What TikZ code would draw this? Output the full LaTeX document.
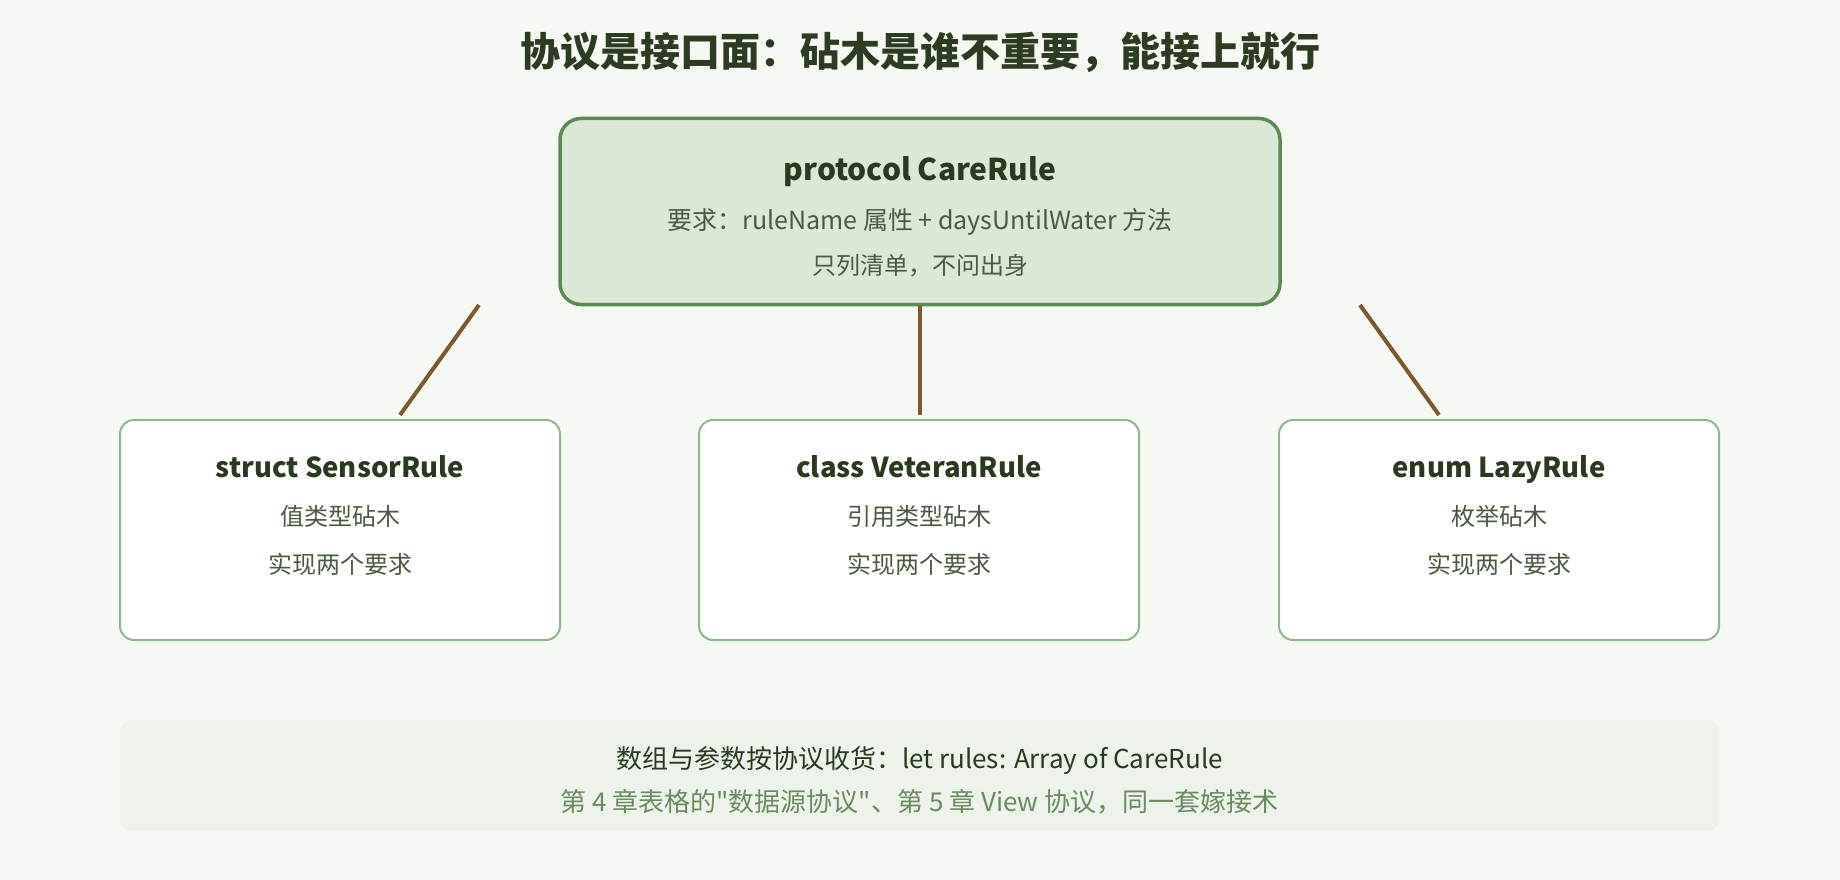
\documentclass[tikz,border=0pt]{standalone}
\usepackage{fontspec}
\setmainfont{Noto Sans CJK SC}[Ligatures=TeXOff]
\definecolor{bg}{HTML}{F6F8F3}
\definecolor{titlec}{HTML}{2D3B22}
\definecolor{headc}{HTML}{2A3A20}
\definecolor{subc}{HTML}{4A5A40}
\definecolor{notec}{HTML}{6B8A62}
\definecolor{topfill}{HTML}{DCE8D6}
\definecolor{topline}{HTML}{5B8A55}
\definecolor{boxline}{HTML}{8DB98A}
\definecolor{linkc}{HTML}{7A5A2E}
\definecolor{panelfill}{HTML}{EDF2EA}
\tikzset{
  topbox/.style={draw=topline, line width=3.5pt, fill=topfill, rounded corners=21pt,
    minimum width=720pt, minimum height=186pt, inner sep=0pt},
  rulebox/.style={draw=boxline, line width=2pt, fill=white, rounded corners=14pt,
    minimum width=440pt, minimum height=220pt, inner sep=0pt},
  panel/.style={fill=panelfill, rounded corners=12pt,
    minimum width=1599pt, minimum height=111pt, inner sep=0pt},
  link/.style={draw=linkc, line width=4pt},
  txt/.style={inner sep=0pt, anchor=base},
  ttl/.style={txt, text=titlec, font=\fontsize{40}{40}\selectfont\bfseries},
  tophead/.style={txt, text=headc, font=\fontsize{30}{30}\selectfont\bfseries},
  head/.style={txt, text=headc, font=\fontsize{27.5}{27.5}\selectfont\bfseries},
  sub/.style={txt, text=subc, font=\fontsize{24}{24}\selectfont},
  topsub/.style={txt, text=subc, font=\fontsize{25}{25}\selectfont},
  note/.style={txt, text=notec, font=\fontsize{26}{26}\selectfont},
  notehead/.style={txt, text=headc, font=\fontsize{26}{26}\selectfont},
}
\begin{document}
\begin{tikzpicture}[x=1pt,y=-1pt]
\fill[bg] (0,0) rectangle (1840,880);
\useasboundingbox (0,0) rectangle (1840,880);

\node[ttl] (title) at (920,67) {协议是接口面：砧木是谁不重要，能接上就行};

\node[topbox] (proto) at (920,211.5) {};
\node[tophead] (protoT) at (920,181) {protocol CareRule};
\node[topsub] (protoA) at (920,229) {要求：ruleName 属性 + daysUntilWater 方法};
\node[sub] (protoB) at (920,274) {只列清单，不问出身};

\node[rulebox] (sensor) at (340,530) {};
\node[head] (sensorT) at (340,477) {struct SensorRule};
\node[sub] (sensorA) at (340,525) {值类型砧木};
\node[sub] (sensorB) at (340,573) {实现两个要求};

\node[rulebox] (veteran) at (919,530) {};
\node[head] (veteranT) at (919,477) {class VeteranRule};
\node[sub] (veteranA) at (919,525) {引用类型砧木};
\node[sub] (veteranB) at (919,573) {实现两个要求};

\node[rulebox] (lazy) at (1499,530) {};
\node[head] (lazyT) at (1499,477) {enum LazyRule};
\node[sub] (lazyA) at (1499,525) {枚举砧木};
\node[sub] (lazyB) at (1499,573) {实现两个要求};

\coordinate (l1a) at (479,305);
\coordinate (l1b) at (400,415);
\coordinate (l3a) at (1360,305);
\coordinate (l3b) at (1439,415);
\coordinate (l2b) at (920,415);
\draw[link] (l1a) -- (l1b);
\draw[link] (proto.south) -- (l2b);
\draw[link] (l3a) -- (l3b);

\node[panel] (note) at (919.5,775.5) {};
\node[notehead] (noteA) at (919.5,768.5) {数组与参数按协议收货：let rules: Array of CareRule};
\node[note] (noteB) at (919.5,811.5) {第 4 章表格的"数据源协议"、第 5 章 View 协议，同一套嫁接术};
\end{tikzpicture}
\end{document}
